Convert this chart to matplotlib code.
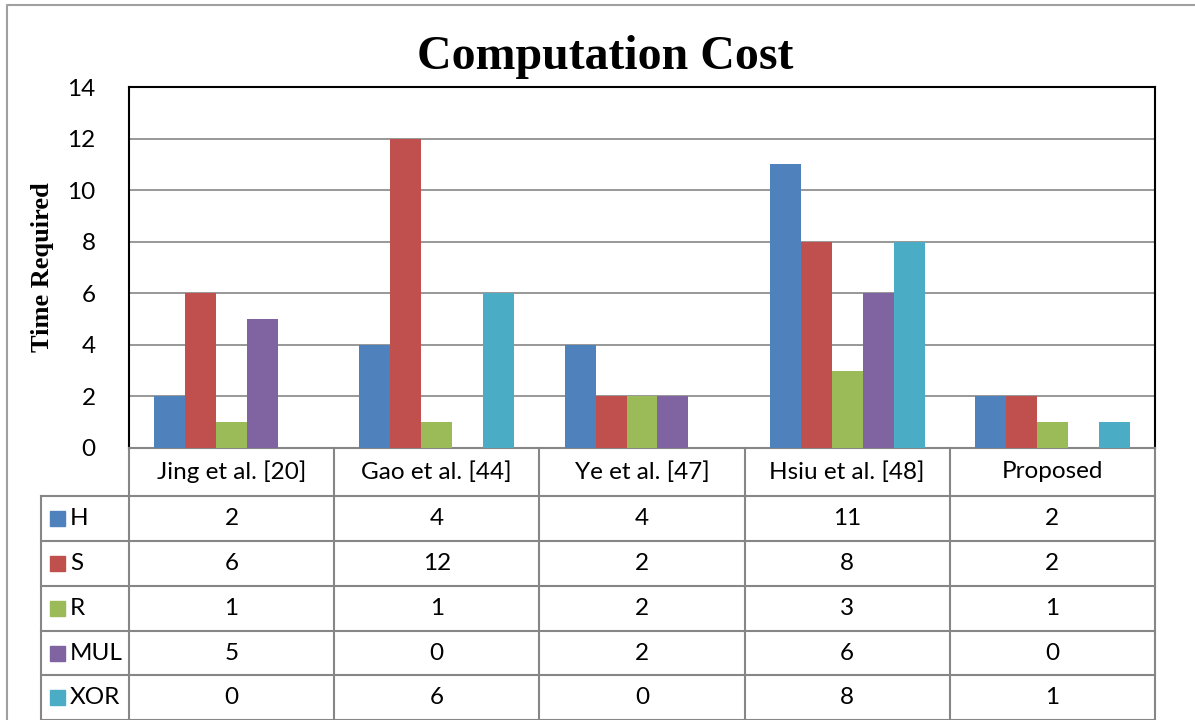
import matplotlib.pyplot as plt
from matplotlib.transforms import blended_transform_factory
from matplotlib.patches import Rectangle
import numpy as np

# data
schemes = ['Jing et al. [20]', 'Gao et al. [44]', 'Ye et al. [47]', 'Hsiu et al. [48]', 'Proposed']
series = ['H', 'S', 'R', 'MUL', 'XOR']
H = [2, 4, 4, 11, 2]
S = [6, 12, 2, 8, 2]
R = [1, 1, 2, 3, 1]
MUL = [5, 0, 2, 6, 0]
XOR = [0, 6, 0, 8, 1]
values = [H, S, R, MUL, XOR]
colors = ['#4F81BD', '#C0504D', '#9BBB59', '#8064A2', '#4BACC6']
yticks = [0, 2, 4, 6, 8, 10, 12, 14]

W, Hpx = 1195, 720
fig = plt.figure(figsize=(W / 100, Hpx / 100), dpi=100)

def fx(px):
    return px / W

def fy(py):
    return 1 - py / Hpx

fs = 17.5
ax = fig.add_axes([fx(129), fy(448), fx(1155) - fx(129), fy(87) - fy(448)])
x = np.arange(len(schemes))
bw = 0.151
for i, (name, vals, c) in enumerate(zip(series, values, colors)):
    ax.bar(x + (i - 2) * bw, vals, bw, color=c, zorder=3, label=name)

ax.set_xlim(-0.5, len(schemes) - 0.5)
ax.set_ylim(0, 14)
ax.set_yticks(yticks)
ax.set_xticks([])
ax.tick_params(axis='y', length=0, pad=24, labelsize=fs)
for lab in ax.get_yticklabels():
    lab.set_fontfamily('Lato')
ax.grid(axis='y', color='#868686', lw=1.2, zorder=0)
for s in ['top', 'right', 'left']:
    ax.spines[s].set_color('black')
    ax.spines[s].set_linewidth(1.5)
ax.spines['bottom'].set_color('#868686')
ax.spines['bottom'].set_linewidth(1.5)

fig.text(fx(605), fy(57), 'Computation Cost', ha='center', va='center',
         family='Liberation Serif', fontweight='bold', fontsize=34.5)
fig.text(fx(43), fy(267), 'Time Required', ha='center', va='center', rotation=90,
         family='Liberation Serif', fontweight='bold', fontsize=19)

# data table below the plot
tr = blended_transform_factory(ax.transData, fig.transFigure)
gray = '#868686'
rows_y = [448, 496, 541, 586, 631, 675, 720]
left_px = 41
# horizontal lines
for ry in rows_y[1:]:
    fig.add_artist(plt.Line2D([fx(left_px), fx(1155)], [fy(ry), fy(ry)],
                              transform=fig.transFigure, color=gray, lw=1.5))
# vertical lines
for k in range(len(schemes) + 1):
    fig.add_artist(plt.Line2D([k - 0.5, k - 0.5], [fy(448), fy(720)], transform=tr,
                              color=gray, lw=1.5))
fig.add_artist(plt.Line2D([fx(left_px), fx(left_px)], [fy(496), fy(720)],
                          transform=fig.transFigure, color=gray, lw=1.5))

for j, name in enumerate(schemes):
    fig.text(j, fy((448 + 496) / 2), name, transform=tr, ha='center', va='center',
             family='Lato', fontsize=fs)

for i, (name, vals, c) in enumerate(zip(series, values, colors)):
    yc = fy((rows_y[i + 1] + rows_y[i + 2]) / 2)
    fig.add_artist(Rectangle((fx(50), yc - 7.5 / Hpx), 15 / W, 15 / Hpx,
                             transform=fig.transFigure, color=c))
    fig.text(fx(70), yc, name, ha='left', va='center', family='Lato', fontsize=fs)
    for j, v in enumerate(vals):
        fig.text(j, yc, str(v), transform=tr, ha='center', va='center',
                 family='Lato', fontsize=fs)

# outer chart border
fig.add_artist(plt.Line2D([fx(7), fx(7), 1], [0, fy(5), fy(5)],
                          transform=fig.transFigure, color='#a0a0a0', lw=1.5))

fig.savefig('out.png', dpi=100)
